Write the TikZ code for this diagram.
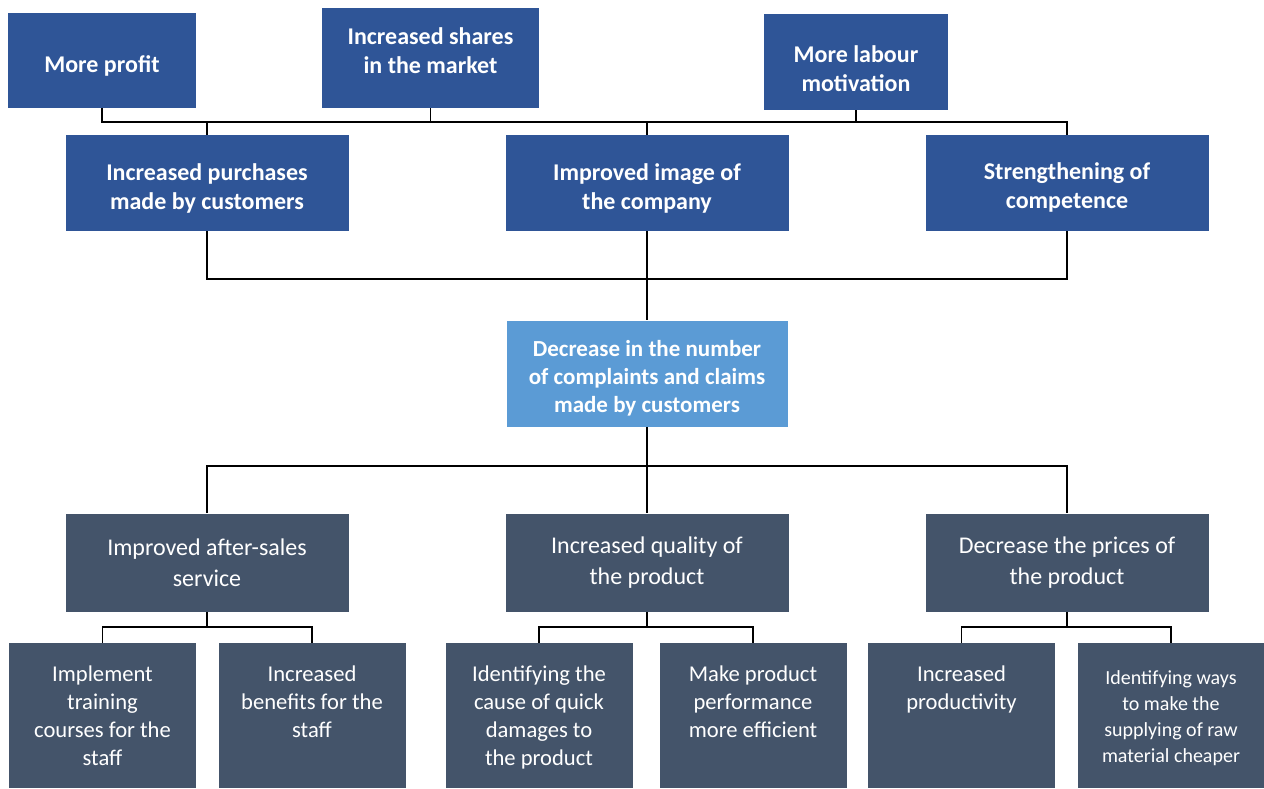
\documentclass[tikz,border=0pt]{standalone}
\usepackage{fontspec}
\setmainfont{Carlito}
\usepackage{tikz}
\definecolor{topblue}{HTML}{2F5597}
\definecolor{midblue}{HTML}{5B9BD5}
\definecolor{slate}{HTML}{44546A}
\newcommand{\leaftext}[1]{\parbox[c][50pt][t]{90pt}{\centering #1}}
\newcommand{\padtop}[1]{\rule{0pt}{#1}}
\tikzset{
	effect/.style={fill=topblue, text=white, align=center, inner sep=0pt, font=\bfseries\fontsize{12}{14.5}\selectfont},
	result/.style={effect, minimum width=141.5pt, minimum height=48pt},
	hub/.style={fill=midblue, text=white, align=center, inner sep=0pt, minimum width=140.5pt, minimum height=53pt, font=\bfseries\fontsize{11.5}{14}\selectfont},
	lever/.style={fill=slate, text=white, align=center, inner sep=0pt, minimum width=141.5pt, minimum height=49pt, font=\fontsize{12}{15.5}\selectfont},
	measure/.style={fill=slate, text=white, inner sep=0pt, minimum width=93.5pt, minimum height=72.5pt, font=\fontsize{11.3}{14}\selectfont},
	link/.style={draw=black, line width=0.6pt}
}

\begin{document}
\begin{tikzpicture}[x=0.5pt, y=-0.5pt]
				\useasboundingbox (0,0) rectangle (1264,788);
				%%%%% TOP %%%%%
				\node[effect, minimum width=94pt, minimum height=47.5pt, execute at begin node={\rule{0pt}{14pt}}] (profit) at (102,60) {More profit};
				\node[effect, minimum width=108.5pt, minimum height=50pt, execute at end node={\rule[-7pt]{0pt}{0pt}}] (shares) at (430.5,58) {Increased shares\\in the market};
				\node[effect, minimum width=92pt, minimum height=48pt] (labour) at (856,62) {\padtop{15pt}More labour\\motivation};
				
				\node[result] (buy) at (207,183) {\padtop{13.5pt}Increased purchases\\made by customers};
				\node[result] (image) at (647,183) {\padtop{13.5pt}Improved image of\\the company};
				\node[result] (strong) at (1067,183) {\padtop{13pt}Strengthening of\\competence};
				
				\coordinate (topbus) at (0,122);
				\draw[link] (profit.south) -- (profit.south |- topbus) -| (strong.north);
				\draw[link] (shares.south) -- (shares.south |- topbus);
				\draw[link] (labour.south) -- (labour.south |- topbus);
				\draw[link] (buy.north) -- (buy.north |- topbus);
				\draw[link] (image.north) -- (image.north |- topbus);
				
				%%%%% MIDDLE %%%%%
				\node[hub] (claims) at (647,373.5) {\padtop{12.5pt}Decrease in the number\\of complaints and claims\\made by customers};
				
				\coordinate (midbus) at (647,279);
				\draw[link] (buy.south) |- (midbus) -| (strong.south);
				\draw[link] (image.south) -- (claims.north);
				
				\node[lever] (service) at (207,562.5) {Improved after-sales\\service};
				\node[lever] (quality) at (647,562.5) {Increased quality of\\the product};
				\node[lever] (price) at (1067,562.5) {Decrease the prices of\\the product};
				
				\coordinate (lowbus) at (647,466);
				\draw[link] (claims.south) -- (quality.north);
				\draw[link] (service.north) |- (lowbus) -| (price.north);
				
				%%%%% BOTTOM %%%%%
				\node[measure] (train) at (102.5,715.5) {\leaftext{Implement\\training\\courses for the\\staff}};
				\node[measure] (perk) at (312,715.5) {\leaftext{Increased\\benefits for the\\staff}};
				\node[measure] (damage) at (539,715.5) {\leaftext{Identifying the\\cause of quick\\damages to\\the product}};
				\node[measure] (perform) at (753,715.5) {\leaftext{Make product\\performance\\more efficient}};
				\node[measure] (produce) at (961.5,715.5) {\leaftext{Increased\\productivity}};
				\node[measure, font=\fontsize{10}{13}\selectfont] (supply) at (1171,715.5) {\leaftext{\vspace*{2.5pt}Identifying ways\\to make the\\supplying of raw\\material cheaper}};
				
				\coordinate (sbus) at (207,627);
				\coordinate (qbus) at (647,627);
				\coordinate (pbus) at (1067,627);
				\draw[link] (service.south) -- (sbus);
				\draw[link] (train.north) |- (sbus) -| (perk.north);
				\draw[link] (quality.south) -- (qbus);
				\draw[link] (damage.north) |- (qbus) -| (perform.north);
				\draw[link] (price.south) -- (pbus);
				\draw[link] (produce.north) |- (pbus) -| (supply.north);
				%%%%% END %%%%%
\end{tikzpicture}
\end{document}
